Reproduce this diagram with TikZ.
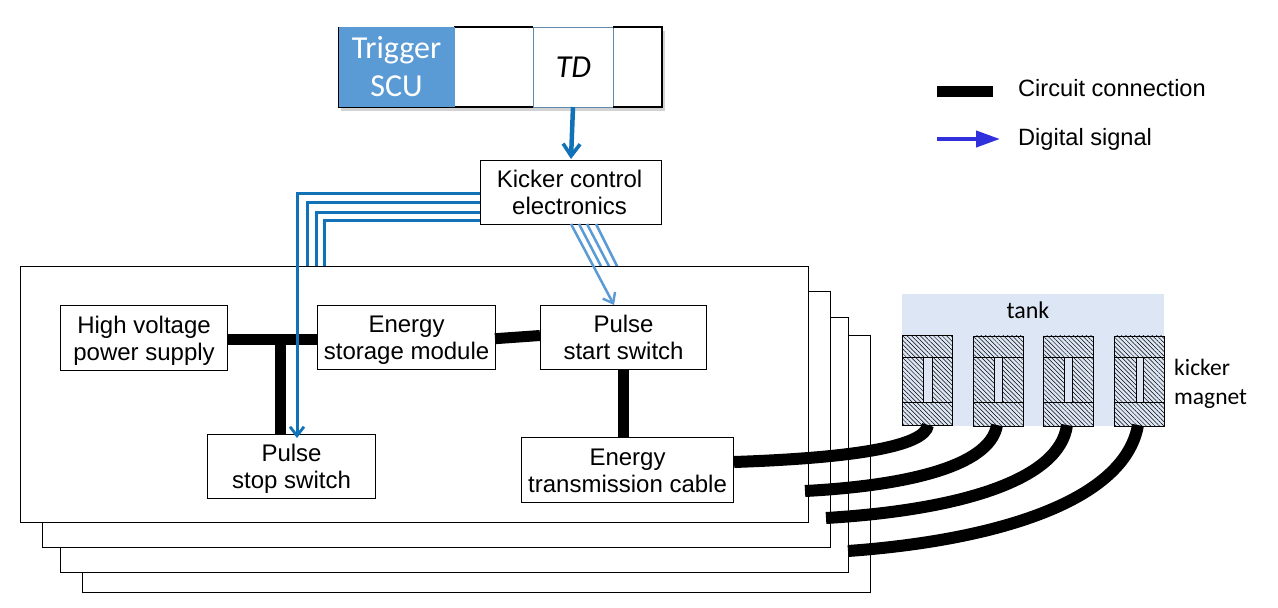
\documentclass[tikz,border=0pt]{standalone}
\usepackage{fontspec}
\setmainfont{Liberation Sans}
\newfontfamily\carl{Carlito}
\usetikzlibrary{arrows.meta,patterns,patterns.meta,shadows,calc}
\definecolor{sigdark}{HTML}{1272B8}
\definecolor{siglight}{HTML}{5B9BD5}
\definecolor{tankfill}{HTML}{DCE6F4}
\definecolor{legblue}{HTML}{3030DC}
\definecolor{cellline}{HTML}{5F8AAE}
\newcommand{\lstrut}{\rule[-4.5pt]{0pt}{26.5pt}}
\tikzset{
  rbox/.style n args={4}{draw=black,line width=1.1pt,fill=white,inner sep=0pt,anchor=north west,
     minimum width=#3*1pt-#1*1pt,minimum height=#4*1pt-#2*1pt},
  txt/.style={font=\fontsize{24}{27}\selectfont,align=center},
  cal/.style={font=\carl\fontsize{23.5}{29}\selectfont,align=left,inner sep=0pt},
  power/.style={line width=11pt,black},
  cable/.style={line width=12pt,black},
  sig/.style={line width=3pt,sigdark},
  sigb/.style={line width=2.5pt,siglight},
  vhead/.style={-{Straight Barb[length=9pt,width=14pt,line width=2.8pt]}},
  bighead/.style={-{Straight Barb[length=12pt,width=17pt,line width=3.6pt]}},
  hatchbox/.style={draw=black,line width=.9pt,fill=none,pattern={Lines[angle=-45,distance=3.1pt,line width=.5pt]},pattern color=black},
}
\newcommand{\magnet}[3]{% left, slot left, slot right
  \node[rbox={#1}{335.5}{#1+50}{425.5},hatchbox] (m#1) at (#1,335.5) {};
  \fill[tankfill] (#2,357) rectangle (#3,402);
  \draw[black,line width=.9pt] (#1,357) -- (#1+50,357) (#1,402) -- (#1+50,402) (#2,357) -- (#2,402) (#3,357) -- (#3,402);
}
\begin{document}
\begin{tikzpicture}[x=1pt,y=-1pt]
\useasboundingbox (0,0) rectangle (1278,608);
\fill[white] (0,0) rectangle (1278,608);

% trigger crate
\node[rbox={338}{27}{662}{107},line width=1.4pt,drop shadow={shadow xshift=2pt,shadow yshift=-3pt,opacity=.35}] (crate) at (338,27) {};
\node[rbox={454}{27}{533}{107},draw=cellline,line width=.8pt] (c1) at (454,27) {};
\node[rbox={533}{27}{613}{107},draw=cellline,line width=.8pt] (td) at (533,27) {};
\node[rbox={613}{27}{662}{107},draw=none,fill=none] (c3) at (613,27) {};
\draw[cellline,line width=.8pt] (c3.north west) -- (c3.south west);
\draw[black,line width=1.4pt] (454,27) -- (533,27) (613,27) -- (662,27) -- (662,107) -- (613,107) (533,107) -- (338,107);
\node[rbox={338}{26.5}{454}{106.5},draw=none,fill=siglight] (scu) at (338,26.5) {};
\node[font=\carl\fontsize{32}{38}\selectfont,text=white,align=center] at ([yshift=0.5pt]scu.center) {Trigger\\SCU};
\node[font=\carl\fontsize{32}{34}\selectfont] at (td.center) {\textit{TD}};

% legend
\coordinate (la) at (937,91.5); \coordinate (lb) at (993,91.5);
\coordinate (lc) at (937,139); \coordinate (ld) at (1000,139);
\draw[line width=11.5pt,black] (la) -- (lb);
\draw[line width=4pt,legblue,-{Triangle[length=24pt,width=16pt]}] (lc) -- (ld);
\node[font=\fontsize{23.6}{26}\selectfont,anchor=west,inner sep=0pt] (l1) at (1018,88) {Circuit connection};
\node[font=\fontsize{23.6}{26}\selectfont,anchor=west,inner sep=0pt] (l2) at (1018,139) {Digital signal};

% kicker control
\node[rbox={480}{160}{661}{224},txt] (kick) at (480,160) {\lstrut Kicker control\kern3pt\\\lstrut electronics\kern3pt};
\draw[line width=4.5pt,sigdark,bighead] (573,107) -- (571,159);

% stacked cards
\node[rbox={82}{335}{870}{592}] (s4) at (82,335) {};
\node[rbox={60}{317}{848}{572}] (s3) at (60,317) {};
\node[rbox={42}{291}{830}{547}] (s2) at (42,291) {};

% signal bundles behind the front card
\coordinate (k2) at (480,202); \coordinate (k3) at (480,212.5); \coordinate (k4) at (480,220.5);
\coordinate (d2) at (579,224); \coordinate (d3) at (587,224); \coordinate (d4) at (596,224);
\draw[sig] (k2) -| (307,270);
\draw[sig] (k3) -| (316,270);
\draw[sig] (k4) -| (324,270);
\draw[sigb] (d2) -- (603,270);
\draw[sigb] (d3) -- (611,270);
\draw[sigb] (d4) -- (619,270);

\node[rbox={20}{266}{808}{522}] (s1) at (20,266) {};

% inner boxes
\node[rbox={60}{305}{227}{370},txt] (hv) at (60,305) {\lstrut High voltage\\\lstrut power supply};
\node[rbox={317}{305}{495}{369},txt] (store) at (317,305) {\lstrut Energy\\\lstrut storage module};
\node[rbox={540}{305}{706}{369},txt] (start) at (540,305) {\lstrut Pulse\\\lstrut start switch};
\node[rbox={207}{434}{375}{498},txt] (stop) at (207,434) {\lstrut Pulse\\\lstrut stop switch};
\node[rbox={521}{437}{733}{502},txt] (cablebox) at (521,437) {\lstrut Energy\\\lstrut transmission cable};

% power connections
\coordinate (tee) at (280,339);
\draw[power] (hv.east |- tee) -- (store.west |- tee);
\draw[power] (tee) -- (tee |- stop.north);
\draw[power] (495,338.7) -- (540,335.5);
\draw[power] (623,369) -- (623,437);

% tank and magnets
\node[rbox={902}{294}{1164}{426},draw=none,fill=tankfill] (tank) at (901.5,293.5) {};
\node[font=\carl\fontsize{24}{24}\selectfont] (tanktxt) at (1028,310) {tank};
\magnet{902}{923}{932}
\magnet{973}{994}{1002}
\magnet{1043}{1064}{1072}
\magnet{1114}{1136}{1143}
\node[cal,anchor=west] (kmag) at (1174,384) {kicker\\magnet};

% cables
\coordinate (e2) at (805,491); \coordinate (e3) at (826,518); \coordinate (e4) at (848,551);
\draw[cable] (cablebox.east |- 0,462) .. controls (850,458) and (925,447) .. (928,425);
\draw[cable] (e2) .. controls (900,486) and (990,468) .. (997,425);
\draw[cable] (e3) .. controls (960,510) and (1060,480) .. (1067,425);
\draw[cable] (e4) .. controls (1000,540) and (1125,500) .. (1138,425);

% signals on top
\coordinate (k1) at (480,193);
\draw[line width=3pt,sigdark] (k1) -| (297,430);
\coordinate (stoptip) at (297,438); \coordinate (stopneck) at (297,428);
\draw[line width=3pt,sigdark,vhead] (stopneck) -- (stoptip);
\coordinate (d1) at (571,224); \coordinate (d1e) at (614,305);
\draw[sigb,-{Straight Barb[length=9pt,width=14pt,line width=2.4pt]}] (d1) -- (d1e);
\end{tikzpicture}
\end{document}
